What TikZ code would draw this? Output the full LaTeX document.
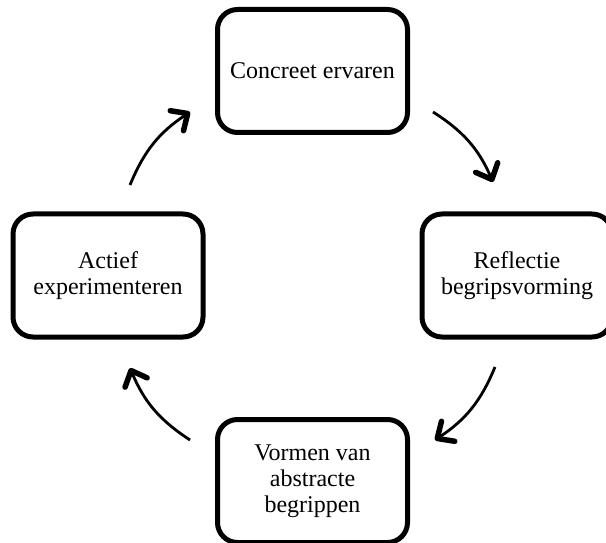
\documentclass[tikz,border=0pt]{standalone}
\usepackage{fontspec}
\setmainfont{Liberation Serif}
\usetikzlibrary{arrows.meta}
\begin{document}
\begin{tikzpicture}
[x=1pt,y=1pt,
  nodedecorate/.style={shape=rectangle,rounded corners=20pt,draw,line width=5pt,
    minimum width=190pt,minimum height=123pt,align=center,
    font=\fontsize{24pt}{26pt}\selectfont},%
  arrowdecorate/.style={line width=2.8pt,bend left=17,
    -{Straight Barb[length=13pt,width=24pt,line width=5.5pt,round]}},%
  scale=1]
\useasboundingbox (0,0) rectangle (606,542);
%% phases of the cycle
\foreach \nodename/\x/\y/\text in {
  concreet/312.5/471/{Concreet ervaren},
  reflectie/517/266.5/{Reflectie\\begripsvorming},
  vormen/312.5/61/{Vormen van\\abstracte\\begrippen},
  actief/108/266.5/{Actief\\experimenteren}} {
  \node (\nodename) at (\x,\y) [nodedecorate] {\text};
}
%% free ends of the arrows
\foreach \cname/\anchorname/\dx/\dy in {
  %% concreet to reflectie
  s1/concreet.south east/23/23, e1/reflectie.north/-24/29.5,
  %% reflectie to vormen
  s2/reflectie.south/-22/-27.5, e2/vormen.north east/25/-23,
  %% vormen to actief
  s3/vormen.north west/-25/-23, e3/actief.south/22/-28.5,
  %% actief to concreet
  s4/actief.north/22/26.5, e4/concreet.south west/-25/23} {
  \coordinate (\cname) at ([shift={(\dx,\dy)}]\anchorname);
}
%% arrows
\path
\foreach \startnode/\endnode in {s1/e1, s2/e2, s3/e3, s4/e4} {
  (\startnode) edge[arrowdecorate] (\endnode)
};
\end{tikzpicture}
\end{document}
